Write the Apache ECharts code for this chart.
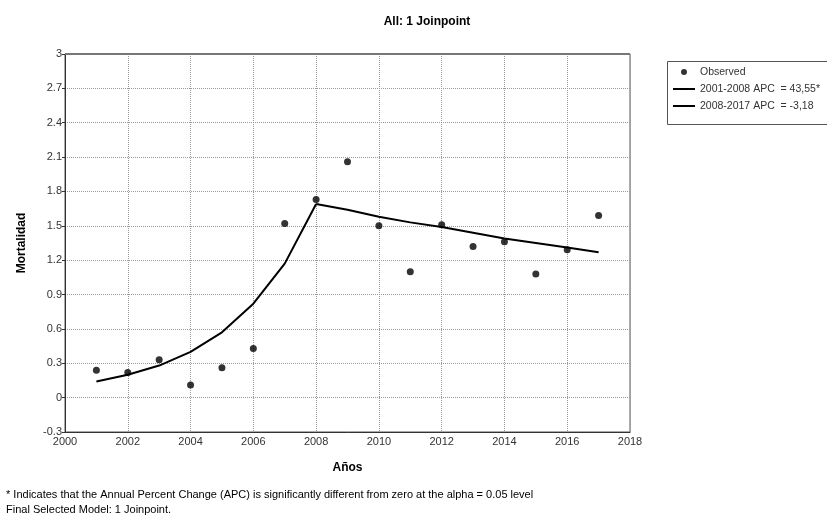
<!DOCTYPE html>
<html><head><meta charset="utf-8">
<script src="https://cdn.jsdelivr.net/npm/echarts@6/dist/echarts.min.js"></script>
<style>html,body{margin:0;padding:0;background:#fff}#c{width:827px;height:517px}</style>
</head><body><div id="c"></div>
<script>
const years = [2001,2002,2003,2004,2005,2006,2007,2008,2009,2010,2011,2012,2013,2014,2015,2016,2017];
const observed = [0.24,0.22,0.33,0.11,0.26,0.43,1.52,1.73,2.06,1.50,1.10,1.51,1.32,1.36,1.08,1.29,1.59];
const seg1Years = [2001,2002,2003,2004,2005,2006,2007,2008];
const seg1Values = [0.14,0.20,0.28,0.40,0.57,0.82,1.17,1.69];
const seg2Years = [2008,2009,2010,2011,2012,2013,2014,2015,2016,2017];
const seg2Values = [1.69,1.64,1.58,1.53,1.49,1.44,1.39,1.35,1.31,1.27];
const seriesNames = ['Observed','2001-2008 APC  = 43,55*','2008-2017 APC  = -3,18'];
const title = 'All: 1 Joinpoint';
const footnotes = ['* Indicates that the Annual Percent Change (APC) is significantly different from zero at the alpha = 0.05 level','Final Selected Model: 1 Joinpoint.'];

const font = 'Liberation Sans, Arial, sans-serif';
const pair = (xs, ys) => xs.map((x,i)=>[x, ys[i]]);
const lineIcon = 'path://M0,0 L22,0 L22,2 L0,2 Z';
const chart = echarts.init(document.getElementById('c'));
chart.setOption({
  animation:false,
  backgroundColor:'#fff',
  textStyle:{fontFamily:font},
  title:{text:title,left:422,top:11,textAlign:'center',textStyle:{fontSize:12,fontWeight:'bold',color:'#000',fontFamily:font}},
  grid:{left:65,right:197,top:54,bottom:85,show:true,borderColor:'#555',borderWidth:1},
  legend:{
    orient:'vertical',left:673,top:66,padding:0,itemWidth:22,itemHeight:6,itemGap:5,
    textStyle:{fontSize:10.5,lineHeight:12,color:'#333',fontFamily:font,padding:[0,0,0,0]},
    data:[{name:seriesNames[0],icon:'circle'},{name:seriesNames[1],icon:lineIcon},{name:seriesNames[2],icon:lineIcon}]
  },
  graphic:[
    {type:'rect',left:665,top:59,shape:{width:180,height:63},style:{fill:'none',stroke:'#555',lineWidth:1},silent:true,z:-1},
    {type:'line',shape:{x1:65,y1:54,x2:630,y2:54},style:{stroke:'#777',lineWidth:2},z:10},
    {type:'text',left:6,top:489,style:{text:footnotes[0],fontSize:11,fill:'#000',fontFamily:font}},
    {type:'text',left:6,top:504,style:{text:footnotes[1],fontSize:11,fill:'#000',fontFamily:font}}
  ],
  xAxis:{type:'value',min:2000,max:2018,interval:2,
    name:'Años',nameLocation:'middle',nameGap:30,
    nameTextStyle:{fontSize:12,fontWeight:'bold',color:'#000',fontFamily:font},
    axisLine:{show:true,onZero:false,lineStyle:{color:'#333'}},
    axisTick:{show:false},
    axisLabel:{fontSize:11,color:'#333',margin:4,fontFamily:font,formatter:v=>String(v)},
    splitLine:{show:true,lineStyle:{color:'#999',type:[1,1]}}
  },
  yAxis:{type:'value',min:-0.3,max:3,interval:0.3,
    name:'Mortalidad',nameLocation:'middle',nameGap:37,
    nameTextStyle:{fontSize:12,fontWeight:'bold',color:'#000',fontFamily:font},
    axisLine:{show:true,onZero:false,lineStyle:{color:'#333'}},
    axisTick:{show:true,length:3,lineStyle:{color:'#333'}},
    axisLabel:{fontSize:11,color:'#333',margin:3,fontFamily:font,formatter:v=>String(parseFloat(v.toFixed(1)))},
    splitLine:{show:true,lineStyle:{color:'#999',type:[1,1]}}
  },
  series:[
    {name:seriesNames[0],type:'scatter',data:pair(years,observed),symbol:'circle',symbolSize:7,itemStyle:{color:'#000'},z:5},
    {name:seriesNames[1],type:'line',data:pair(seg1Years,seg1Values),symbol:'none',lineStyle:{color:'#000',width:2},itemStyle:{color:'#000'}},
    {name:seriesNames[2],type:'line',data:pair(seg2Years,seg2Values),symbol:'none',lineStyle:{color:'#000',width:2},itemStyle:{color:'#000'}}
  ]
});
</script></body></html>
